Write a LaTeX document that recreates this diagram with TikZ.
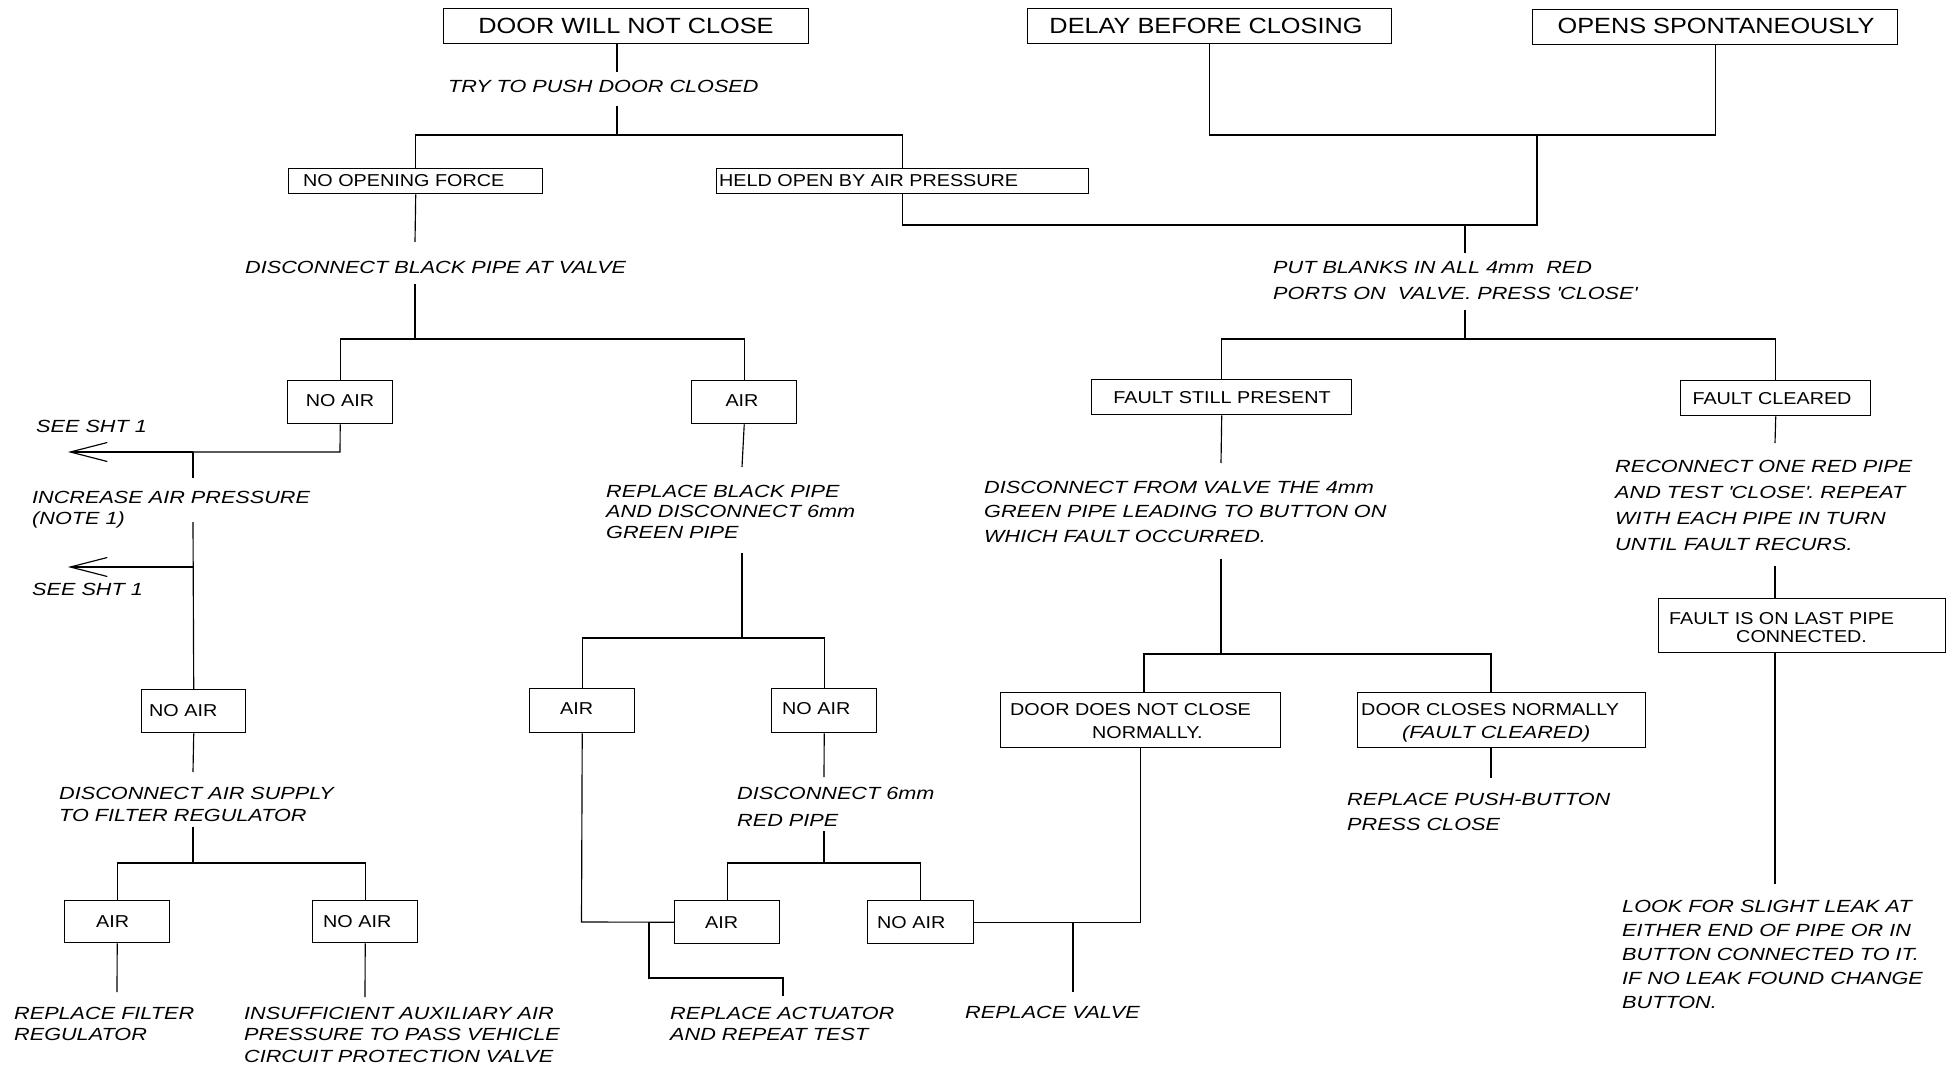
\documentclass[tikz,border=0pt]{standalone}
\usepackage{fontspec}
\setmainfont{Liberation Sans}[FakeStretch=1.15]
\newfontfamily\itf{Liberation Sans}[FakeStretch=1.23]
\usetikzlibrary{arrows.meta}
\tikzset{
  ln/.style={line width=1.15pt},
  box/.style={draw, line width=1.45pt, inner sep=0pt, anchor=north west},
  ttl/.style={font=\fontsize{22}{26}\selectfont, inner sep=0pt, anchor=base},
  bt/.style={font=\fontsize{17.2}{20}\selectfont, inner sep=0pt, anchor=base west},
  btc/.style={font=\fontsize{17.2}{20}\selectfont, inner sep=0pt, anchor=base},
  it/.style={font=\itf\itshape\fontsize{17.6}{#1}\selectfont, inner sep=0pt, anchor=base west, align=left},
  it/.default=25pt,
  barb/.style={ln, -{Straight Barb[length=37pt, width=19pt, line width=1.15pt]}}
}
\begin{document}
\begin{tikzpicture}[x=1pt,y=-1pt]
\useasboundingbox (0,0) rectangle (1950,1067);

% ---- boxes ----
\node[box, minimum width=365pt, minimum height=35pt] (t1) at (443,8) {};
\node[box, minimum width=364pt, minimum height=35pt] (t2) at (1027,8) {};
\node[box, minimum width=365pt, minimum height=35pt] (t3) at (1532,9) {};
\node[box, minimum width=254pt, minimum height=25pt] (b1) at (288,168) {};
\node[box, minimum width=372pt, minimum height=25pt] (b2) at (716,168) {};
\node[box, minimum width=105pt, minimum height=43pt] (b3) at (287,380) {};
\node[box, minimum width=105pt, minimum height=43pt] (b4) at (691,380) {};
\node[box, minimum width=104pt, minimum height=43pt] (b5) at (141,689) {};
\node[box, minimum width=105pt, minimum height=44pt] (b6) at (529,688) {};
\node[box, minimum width=105pt, minimum height=44pt] (b7) at (771,688) {};
\node[box, minimum width=105pt, minimum height=42pt] (b8) at (64,900) {};
\node[box, minimum width=105pt, minimum height=42pt] (b9) at (312,900) {};
\node[box, minimum width=105pt, minimum height=43pt] (b10) at (674,900) {};
\node[box, minimum width=106pt, minimum height=43pt] (b11) at (867,900) {};
\node[box, minimum width=260pt, minimum height=35pt] (b12) at (1091,379) {};
\node[box, minimum width=190pt, minimum height=35pt] (b13) at (1680,380) {};
\node[box, minimum width=280pt, minimum height=55pt] (b14) at (1000,692) {};
\node[box, minimum width=288pt, minimum height=55pt] (b15) at (1357,692) {};
\node[box, minimum width=287pt, minimum height=54pt] (b16) at (1658,598) {};

% ---- box texts ----
\node[ttl] (t1t) at (626,34) {DOOR WILL NOT CLOSE};
\node[ttl] (t2t) at (1206,34) {DELAY BEFORE CLOSING};
\node[ttl] (t3t) at (1716,34) {OPENS SPONTANEOUSLY};
\node[bt] (b1t) at (303,187) {NO OPENING FORCE};
\node[bt] (b2t) at (719,187) {HELD OPEN BY AIR PRESSURE};
\node[btc] (b3t) at (340,406) {NO AIR};
\node[btc] (b4t) at (742,406) {AIR};
\node[bt] (b5t) at (149,716) {NO AIR};
\node[bt] (b6t) at (560,714) {AIR};
\node[bt] (b7t) at (782,714) {NO AIR};
\node[bt] (b8t) at (96,927) {AIR};
\node[bt] (b9t) at (323,927) {NO AIR};
\node[bt] (b10t) at (705,928) {AIR};
\node[bt] (b11t) at (877,928) {NO AIR};
\node[btc] (b12t) at (1222,403) {FAULT STILL PRESENT};
\node[btc] (b13t) at (1772,404) {FAULT CLEARED};
\node[bt] (b14a) at (1010,715) {DOOR DOES NOT CLOSE};
\node[bt] (b14b) at (1092,738) {NORMALLY.};
\node[bt] (b15a) at (1361,715) {DOOR CLOSES NORMALLY};
\node[it] (b15b) at (1402,738) {(FAULT CLEARED)};
\node[bt] (b16a) at (1669,624) {FAULT IS ON LAST PIPE};
\node[bt] (b16b) at (1736,642) {CONNECTED.};

% ---- free texts (anchor = baseline of last line) ----
\node[it] (tryt) at (448,93) {TRY TO PUSH DOOR CLOSED};
\node[it] (dbp) at (245,273) {DISCONNECT BLACK PIPE AT VALVE};
\node[it=26pt] (pb) at (1273,299) {PUT BLANKS IN ALL 4mm\ \ RED\\PORTS ON\ \ VALVE. PRESS \textquotesingle CLOSE\textquotesingle};
\node[it] (see1) at (36,432) {SEE SHT 1};
\node[it=21pt] (inc) at (32,524) {INCREASE AIR PRESSURE\\(NOTE 1)};
\node[it] (see2) at (32,595) {SEE SHT 1};
\node[it=20.5pt] (rbp) at (606,538) {REPLACE BLACK PIPE\\AND DISCONNECT 6mm\\GREEN PIPE};
\node[it=22pt] (das) at (59,821) {DISCONNECT AIR SUPPLY\\TO FILTER REGULATOR};
\node[it=21pt] (rfr) at (14,1040) {REPLACE FILTER\\REGULATOR};
\node[it=21.5pt] (ins) at (244,1062) {INSUFFICIENT AUXILIARY AIR\\PRESSURE TO PASS VEHICLE\\CIRCUIT PROTECTION VALVE};
\node[it=21pt] (rat) at (670,1040) {REPLACE ACTUATOR\\AND REPEAT TEST};
\node[it=27pt] (d6) at (737,826) {DISCONNECT 6mm\\RED PIPE};
\node[it] (rv) at (965,1018) {REPLACE VALVE};
\node[it=24.5pt] (dfv) at (984,542) {DISCONNECT FROM VALVE THE 4mm\\GREEN PIPE LEADING TO BUTTON ON\\WHICH FAULT OCCURRED.};
\node[it=25pt] (rpb) at (1347,830) {REPLACE PUSH-BUTTON\\PRESS CLOSE};
\node[it=25.7pt] (rec) at (1615,550) {RECONNECT ONE RED PIPE\\AND TEST \textquotesingle CLOSE\textquotesingle. REPEAT\\WITH EACH PIPE IN TURN\\UNTIL FAULT RECURS.};
\node[it=24pt] (look) at (1622,1008) {LOOK FOR SLIGHT LEAK AT\\EITHER END OF PIPE OR IN\\BUTTON CONNECTED TO IT.\\IF NO LEAK FOUND CHANGE\\BUTTON.};

% ---- coordinates ----
\coordinate (a1) at (617,72);
\coordinate (a2) at (617,106);
\coordinate (j1) at (617,135);
\coordinate (j2) at (1537,135);
\coordinate (j3) at (1537,225);
\coordinate (j4) at (1465,225);
\coordinate (g4a) at (1465,253);
\coordinate (g4b) at (1465,310);
\coordinate (j5) at (1465,339);
\coordinate (g12a) at (1221,463);
\coordinate (g12b) at (1221,559);
\coordinate (j6) at (1221,654);
\coordinate (j6l) at (1144,654);
\coordinate (j6r) at (1491,654);
\coordinate (g15) at (1491,778);
\coordinate (jv) at (1073,922);
\coordinate (gv) at (1073,992);
\coordinate (g13a) at (1775,443);
\coordinate (g13b) at (1775,566);
\coordinate (g16) at (1775,884);
\coordinate (g1a) at (415,242);
\coordinate (g1b) at (415,284);
\coordinate (j7) at (415,339);
\coordinate (j8) at (340,452);
\coordinate (tip1) at (68,452);
\coordinate (j8b) at (193,452);
\coordinate (g3a) at (193,478);
\coordinate (g3b) at (193,522);
\coordinate (j8c) at (193,567);
\coordinate (tip2) at (68,567);
\coordinate (g5a) at (193,772);
\coordinate (g5b) at (193,827);
\coordinate (j9) at (193,863);
\coordinate (g8) at (117,992);
\coordinate (g9) at (365,997);
\coordinate (g4c) at (742,467);
\coordinate (g4d) at (742,553);
\coordinate (j10) at (742,638);
\coordinate (j6a) at (581.5,922);
\coordinate (ja) at (649,922);
\coordinate (jb) at (649,978);
\coordinate (jc) at (783,978);
\coordinate (gac) at (783,996);
\coordinate (g7a) at (824,777);
\coordinate (g7b) at (824,831);
\coordinate (j11) at (824,863);

% ---- connectors ----
\draw[ln] (a1 |- t1.south) -- (a1);
\draw[ln] (a2) -- (j1);
\draw[ln] (b1.north) -- (b1.north |- j1) -- (b2.north |- j1) -- (b2.north);
\draw[ln] (t2.south) -- (t2.south |- j2) -- (t3.south |- j2) -- (t3.south);
\draw[ln] (j2) -- (j3) -- (j3 -| b2.south) -- (b2.south);
\draw[ln] (j4) -- (g4a);
\draw[ln] (g4b) -- (j5);
\draw[ln] (b12.north) -- (b12.north |- j5) -- (b13.north |- j5) -- (b13.north);
\draw[ln] (b12.south) -- (g12a);
\draw[ln] (g12b) -- (j6);
\draw[ln] (j6l |- b14.north) -- (j6l) -- (j6r) -- (j6r |- b15.north);
\draw[ln] (j6r |- b15.south) -- (g15);
\draw[ln] (b14.south) -- (b14.south |- b11.east) -- (b11.east);
\draw[ln] (jv) -- (gv);
\draw[ln] (b13.south) -- (g13a);
\draw[ln] (g13b) -- (g13b |- b16.north);
\draw[ln] (g13b |- b16.south) -- (g16);
% left half
\draw[ln] (b1.south) -- (g1a);
\draw[ln] (g1b) -- (j7);
\draw[ln] (b3.north) -- (b3.north |- j7) -- (b4.north |- j7) -- (b4.north);
\draw[ln] (b3.south) -- (j8) -- (j8b);
\draw[barb] (j8b) -- (tip1);
\draw[ln] (j8b) -- (g3a);
\draw[ln] (g3b) -- (b5.north);
\draw[barb] (j8c) -- (tip2);
\draw[ln] (b5.south) -- (g5a);
\draw[ln] (g5b) -- (j9);
\draw[ln] (b8.north) -- (b8.north |- j9) -- (b9.north |- j9) -- (b9.north);
\draw[ln] (b8.south) -- (g8);
\draw[ln] (b9.south) -- (g9);
\draw[ln] (b4.south) -- (g4c);
\draw[ln] (g4d) -- (j10);
\draw[ln] (b6.north) -- (b6.north |- j10) -- (b7.north |- j10) -- (b7.north);
\draw[ln] (b6.south) -- (j6a) -- (b10.west);
\draw[ln] (ja) -- (jb) -- (jc) -- (gac);
\draw[ln] (b7.south) -- (g7a);
\draw[ln] (g7b) -- (j11);
\draw[ln] (b10.north) -- (b10.north |- j11) -- (b11.north |- j11) -- (b11.north);
\end{tikzpicture}
\end{document}
